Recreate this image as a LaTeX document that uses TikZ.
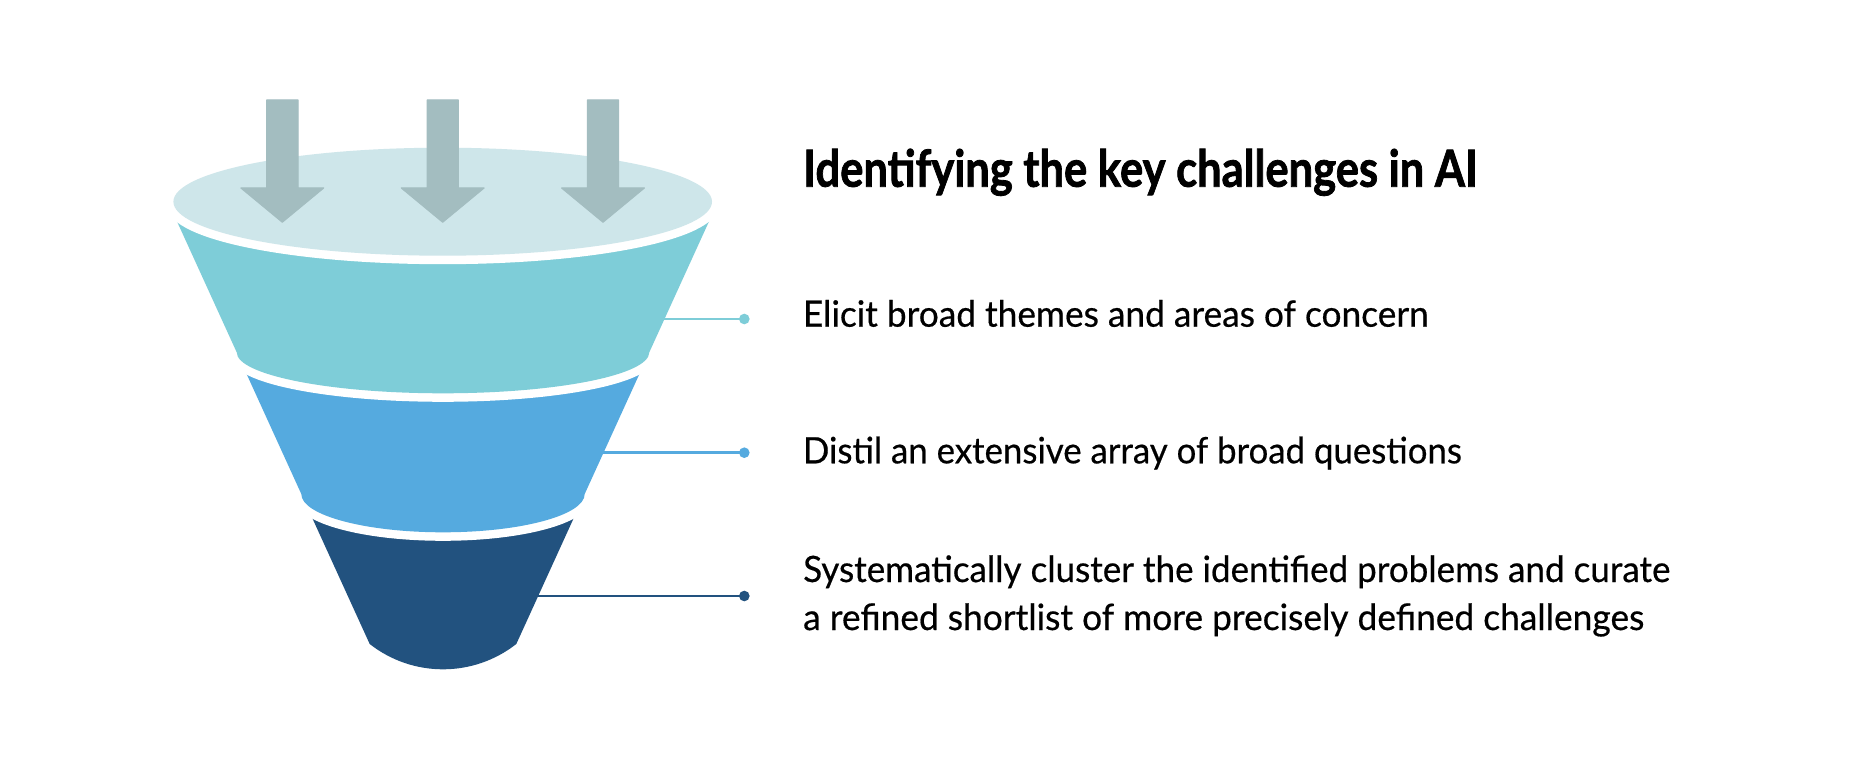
\documentclass[tikz,border=0pt]{standalone}
\usepackage{fontspec}
\usepackage{graphicx}
\setmainfont{Lato}
\newfontfamily\bodyfont{Lato}[FakeBold=0.5]
\newfontfamily\headfont{Lato Bold}[FakeBold=1.6]
\definecolor{topc}{HTML}{CEE6EA}
\definecolor{arrc}{HTML}{A3BDC0}
\definecolor{segA}{HTML}{7ECDD8}
\definecolor{segB}{HTML}{55AADF}
\definecolor{segC}{HTML}{22527F}
\definecolor{txtc}{HTML}{000000}
\newcommand{\fitw}[2]{\resizebox{#1pt}{\height}{#2}}
\begin{document}
\begin{tikzpicture}[x=1pt,y=-1pt,
  inarrow/.style={fill=arrc, draw=arrc, line width=1, line join=round},
  gapped/.style={preaction={draw=white, line width=17, line join=round}},
  conn/.style={line width=2.6},
  dotnode/.style={circle, inner sep=0pt, minimum size=10.6pt},
  titletext/.style={anchor=base west, inner sep=0pt, text=txtc, font=\fontsize{51}{60}\headfont},
  bodytext/.style={anchor=base west, inner sep=0pt, text=txtc, font=\fontsize{36.3}{44}\bodyfont}]
\useasboundingbox (0,0) rectangle (1870,770);
\fill[white] (0,0) rectangle (1870,770);

% funnel segments, drawn from the bottom up; each one cuts a white gap into the one below
\fill[segC] (301.3,494) -- (369.7,644)
  arc[start angle=128.1, end angle=51.9, radius=118.8]
  -- (584.7,494) -- cycle;
\fill[segB, gapped] (236.7,352.3) -- (301.3,494)
  arc[start angle=180, end angle=0, x radius=141.7, y radius=38.3]
  -- (649.3,352.3) -- cycle;
\fill[segA, gapped] (168,201.7) -- (236.7,352.3)
  arc[start angle=180, end angle=0, x radius=206.3, y radius=41]
  -- (718,201.7) -- cycle;

% top ellipse
\fill[topc, gapped] (442.7,201.7) ellipse [x radius=269.3, y radius=54];

% input arrows
\foreach \cx in {282.3,442.7,603}{
  \path[inarrow] (\cx-15.7,100) -- (\cx+15.7,100) -- (\cx+15.7,188)
    -- (\cx+41.5,188) -- (\cx,222.3) -- (\cx-41.5,188) -- (\cx-15.7,188) -- cycle;
}

% connectors
\coordinate (s1) at (659,319);
\coordinate (s2) at (598,452.7);
\coordinate (s3) at (533,596);
\node[dotnode, fill=segA] (d1) at (744.3,319) {};
\node[dotnode, fill=segB] (d2) at (744.3,452.7) {};
\node[dotnode, fill=segC] (d3) at (744.3,596) {};
\draw[conn, segA] (s1) -- (d1.center);
\draw[conn, segB] (s2) -- (d2.center);
\draw[conn, segC] (s3) -- (d3.center);

% texts
\node[titletext] (title) at (803,186.7) {\fitw{674.5}{Identifying the key challenges in AI}};
\node[bodytext] (t1) at (802.7,326.7) {\fitw{625.8}{Elicit broad themes and areas of concern}};
\node[bodytext] (t2) at (802.7,463.3) {\fitw{659}{Distil an extensive array of broad questions}};
\node[bodytext] (t3a) at (803,582) {\fitw{867}{Systematically cluster the identified problems and curate}};
\node[bodytext] (t3b) at (803,630) {\fitw{841}{a refined shortlist of more precisely defined challenges}};
\end{tikzpicture}
\end{document}
